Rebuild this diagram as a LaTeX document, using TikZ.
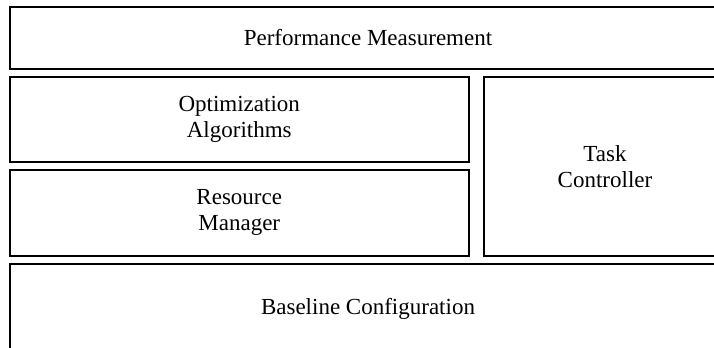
\documentclass[tikz,border=0pt]{standalone}
\usepackage{fontspec}
\setmainfont{Liberation Serif}
\usepackage{tikz}
\usetikzlibrary{positioning}

\begin{document}
\begin{tikzpicture}[layer/.style={draw,line width=1pt,align=center,inner sep=2pt,outer sep=0pt,
    font=\fontsize{11.5pt}{13pt}\selectfont},node distance=4pt]
    \useasboundingbox (0,0) rectangle (357pt,-174pt);
    \clip (0,0) rectangle (357pt,-174pt);
    \node[layer,minimum width=358.5pt,minimum height=31pt,anchor=north west] (perf) at (4.75pt,-3.5pt) {Performance Measurement};
    \node[layer,minimum width=229.75pt,minimum height=42.5pt] (opt) [below=of perf.south west,anchor=north west] {Optimization\\Algorithms};
    \node[layer,minimum width=229.75pt,minimum height=42.75pt] (res) [below=of opt.south west,anchor=north west] {Resource\\Manager};
    \node[layer,minimum width=121pt,minimum height=89.25pt] (task) [right=7.5pt of opt.north east,anchor=north west] {Task\\Controller};
    \node[layer,minimum width=358.5pt,minimum height=45.5pt] (base) [below=of res.south west,anchor=north west] {Baseline Configuration};
  \end{tikzpicture}
\end{document}
